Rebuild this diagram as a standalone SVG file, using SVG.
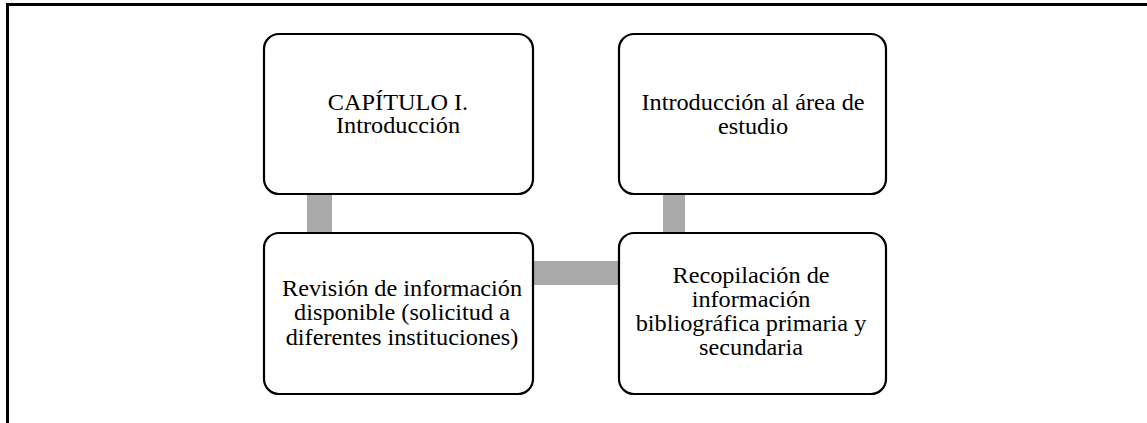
<svg xmlns="http://www.w3.org/2000/svg" width="1147" height="423" viewBox="0 0 1147 423">
<style>
.box{fill:#fff;stroke:#000;stroke-width:2.2}
.lbl{font-family:"Liberation Serif","Times New Roman",serif;font-size:22.5px;fill:#000;text-anchor:middle}
.conn{fill:#aaaaaa}
</style>
<rect width="1147" height="423" fill="#fff"/>
<g id="frame">
<line x1="6" y1="4.5" x2="1147" y2="4.5" stroke="#000" stroke-width="3"/>
<line x1="7.5" y1="3" x2="7.5" y2="423" stroke="#000" stroke-width="3"/>
</g>
<g id="connectors">
<rect class="conn" x="307" y="194" width="25" height="40"/>
<rect class="conn" x="663" y="194" width="22" height="40"/>
<rect class="conn" x="533" y="261" width="86" height="24"/>
</g>
<g id="node1">
<rect class="box" x="264" y="34" width="269" height="160" rx="15"/>
<text class="lbl" transform="translate(398 0) scale(1.08 1)"><tspan x="0" y="110">CAPÍTULO I.</tspan><tspan x="0" y="133">Introducción</tspan></text>
</g>
<g id="node2">
<rect class="box" x="619" y="34" width="267" height="160" rx="15"/>
<text class="lbl" transform="translate(753 0) scale(1.08 1)"><tspan x="0" y="110">Introducción al área de</tspan><tspan x="0" y="134">estudio</tspan></text>
</g>
<g id="node3">
<rect class="box" x="264" y="233" width="269" height="161" rx="15"/>
<text class="lbl" transform="translate(402 0) scale(1.08 1)"><tspan x="0" y="296">Revisión de información</tspan><tspan x="0" y="320.5">disponible (solicitud a</tspan><tspan x="0" y="345">diferentes instituciones)</tspan></text>
</g>
<g id="node4">
<rect class="box" x="619" y="233" width="267" height="161" rx="15"/>
<text class="lbl" transform="translate(751 0) scale(1.08 1)"><tspan x="0" y="283">Recopilación de</tspan><tspan x="0" y="307">información</tspan><tspan x="0" y="331.5">bibliográfica primaria y</tspan><tspan x="0" y="355.5">secundaria</tspan></text>
</g>
</svg>
